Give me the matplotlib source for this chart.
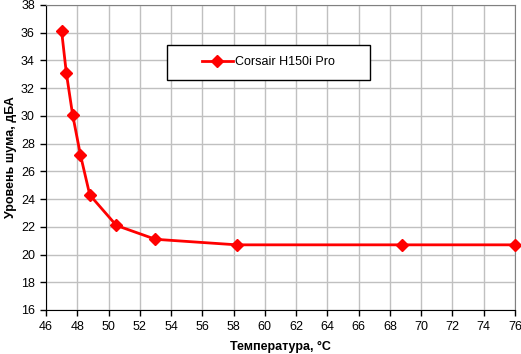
import matplotlib.pyplot as plt
from matplotlib.patches import Rectangle

# Температура, °C и уровень шума, дБА
temperature = [47.0, 47.3, 47.7, 48.2, 48.8, 50.5, 53.0, 58.2, 68.8, 76.0]
noise = [36.1, 33.1, 30.1, 27.2, 24.3, 22.1, 21.1, 20.7, 20.7, 20.7]
series_name = "Corsair H150i Pro"

x_ticks = list(range(46, 77, 2))
y_ticks = list(range(16, 39, 2))

plt.rcParams['font.family'] = ['Liberation Sans', 'DejaVu Sans']

fig = plt.figure(figsize=(5.21, 3.54), dpi=100)
ax = fig.add_axes([0.0883, 0.1243, 0.9002, 0.8616])

ax.plot(temperature, noise, color='#ff0000', linewidth=2, marker='D',
        markersize=6, label=series_name, zorder=3, clip_on=False)

ax.set_xlim(46, 76)
ax.set_ylim(16, 38)
ax.set_xticks(x_ticks)
ax.set_yticks(y_ticks)
ax.tick_params(labelsize=9, direction='out', length=4, width=1, pad=4)
ax.grid(True, color='#c0c0c0', linewidth=1)
ax.set_axisbelow(True)

for side in ['top', 'right']:
    ax.spines[side].set_color('#808080')
for side in ['left', 'bottom']:
    ax.spines[side].set_color('black')

ax.set_xlabel("Температура, °C", fontsize=9, fontweight='bold', labelpad=6)
ax.set_ylabel("Уровень шума, дБА", fontsize=9, fontweight='bold', labelpad=3)

# рамка легенды
box = Rectangle((0.258, 0.754), 0.433, 0.115, transform=ax.transAxes,
                facecolor='white', edgecolor='black', linewidth=1, zorder=4)
ax.add_patch(box)
leg = ax.legend(loc='center', bbox_to_anchor=(0.4745, 0.8115), fontsize=9,
                frameon=False, handlelength=2.5, handletextpad=0.2,
                borderaxespad=0)
leg.set_zorder(5)

fig.savefig('out.png', dpi=100)
